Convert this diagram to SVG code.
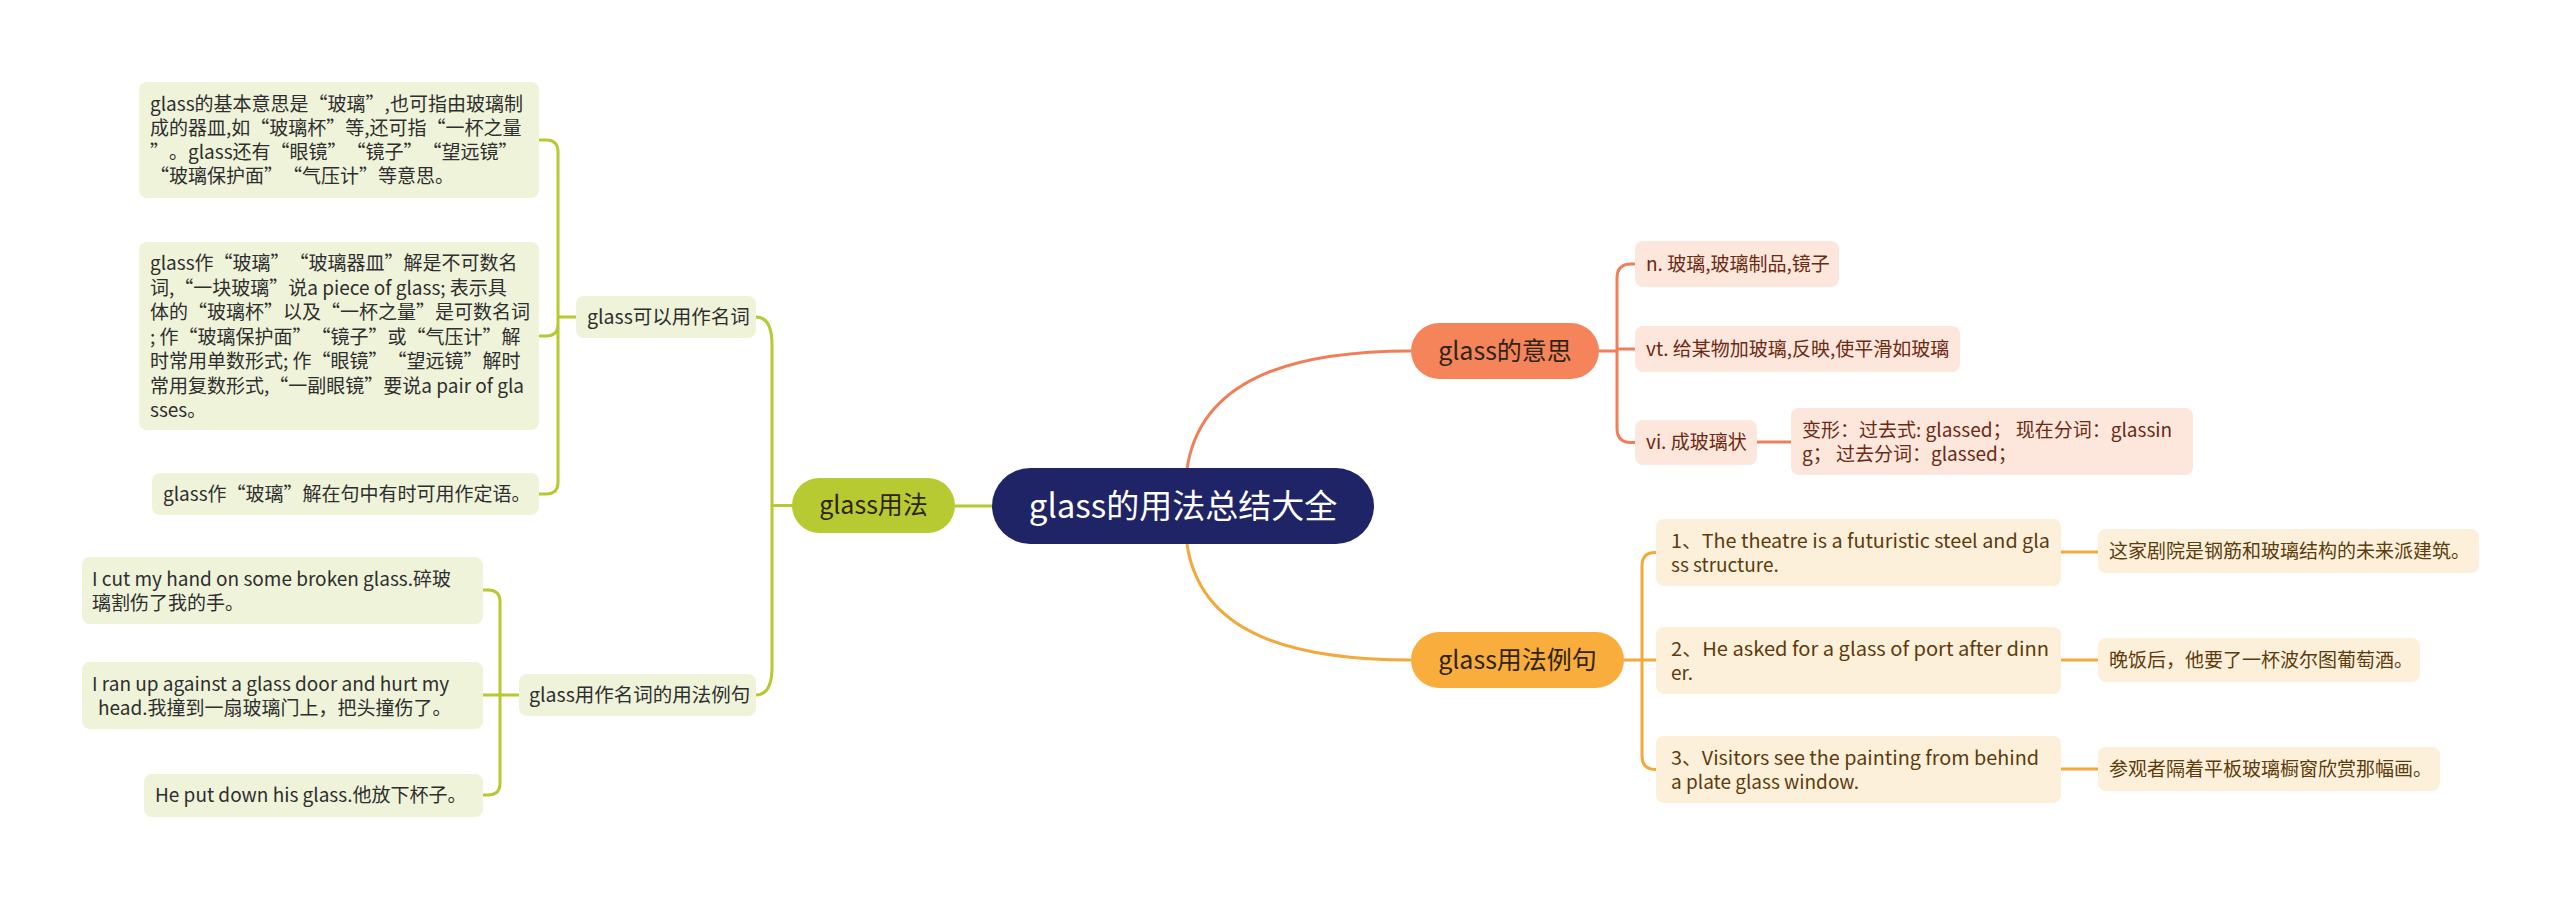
<svg xmlns="http://www.w3.org/2000/svg" width="2560" height="901" viewBox="0 0 2560 901">
<style>
text{font-family:"Noto Sans CJK SC","Noto Sans",sans-serif;text-spacing-trim:space-all;}
.root{fill:#1f2466;}
.rootT{fill:#ffffff;font-size:33px;text-anchor:middle;}
.b1o{fill:#f5845a;}
.b1y{fill:#f9ad3c;}
.b1g{fill:#b7ca31;}
.b1T{fill:#2f2418;font-size:25px;text-anchor:middle;}
.lp{fill:#fde6dc;}
.ly{fill:#fdf0da;}
.lg{fill:#eff3da;}
.tp{fill:#6b2a12;font-size:19px;}
.ty{fill:#5c3b0c;font-size:19px;}
.tg{fill:#2e2e2e;font-size:19px;}
.tg2{fill:#2e2e2e;font-size:19.5px;}
.co{fill:none;stroke:#ef7f58;stroke-width:3;}
.cy{fill:none;stroke:#f3a83b;stroke-width:3;}
.cg{fill:none;stroke:#b6c832;stroke-width:3;}
</style>
<rect width="2560" height="901" fill="#ffffff"/>
<g id="connectors">
<path class="co" d="M1187,469 C1200,380 1290,351 1411,351"/>
<path class="cy" d="M1187,544 C1200,633 1290,660 1411,660"/>
<path class="cg" d="M955,506 L992,506"/>
<path class="co" d="M1599,351 L1617,351 M1617,351 L1617,278 Q1617,264 1631,264 L1635,264 M1617,349 L1635,349 M1617,351 L1617,428 Q1617,442.5 1631,442.5 L1635,442.5 M1757,442 L1791,442"/>
<path class="cy" d="M1624,660 L1642,660 M1642,660 L1642,566 Q1642,552.5 1655,552.5 L1656,552.5 M1642,660 L1656,660 M1642,660 L1642,756 Q1642,769.5 1656,769.5 M2061,552 L2098,552 M2061,660 L2098,660 M2061,769 L2098,769"/>
<path class="cg" d="M792,505.5 L772,505.5 M772,505.5 L772,345 Q772,317 756,317 M772,505.5 L772,667 Q772,695 756,695"/>
<path class="cg" d="M576,317 L558,317 M558,317 L558,152 Q558,140 546,140 L539,140 M558,317 L558,324 Q558,336 546,336 L539,336 M558,317 L558,482 Q558,494 546,494 L539,494"/>
<path class="cg" d="M519,695 L500,695 M500,695 L500,602 Q500,590 488,590 L483,590 M500,695 L483,695 M500,695 L500,783 Q500,795 488,795 L483,795"/>
</g>
<g id="root">
<rect class="root" x="992" y="468" width="382" height="76" rx="38"/>
<text class="rootT" x="1183" y="518">glass的用法总结大全</text>
</g>
<g id="meaning">
<rect class="b1o" x="1411" y="323" width="188" height="56" rx="28"/>
<text class="b1T" x="1505" y="360">glass的意思</text>
</g>
<g id="examples">
<rect class="b1y" x="1411" y="632" width="213" height="56" rx="28"/>
<text class="b1T" x="1517.5" y="669">glass用法例句</text>
</g>
<g id="usage">
<rect class="b1g" x="792" y="478" width="163" height="55" rx="27.5"/>
<text class="b1T" x="873.5" y="514">glass用法</text>
</g>
<g id="m-n">
<rect class="lp" x="1635" y="241" width="204" height="46" rx="8"/>
<text class="tp" x="1646" y="271">n. 玻璃,玻璃制品,镜子</text>
</g>
<g id="m-vt">
<rect class="lp" x="1635" y="326" width="325" height="46" rx="8"/>
<text class="tp" x="1646" y="356">vt. 给某物加玻璃,反映,使平滑如玻璃</text>
</g>
<g id="m-vi">
<rect class="lp" x="1635" y="420" width="122" height="45" rx="8"/>
<text class="tp" x="1646" y="449">vi. 成玻璃状</text>
</g>
<g id="m-forms">
<rect class="lp" x="1791" y="408" width="402" height="67" rx="8"/>
<text class="tp" x="1802" y="437">变形：过去式: glassed； 现在分词：glassin</text>
<text class="tp" x="1802" y="461">g； 过去分词：glassed；</text>
</g>
<g id="e1">
<rect class="ly" x="1656" y="519" width="405" height="67" rx="8"/>
<text class="ty" x="1671" y="548" textLength="379" lengthAdjust="spacingAndGlyphs">1、The theatre is a futuristic steel and gla</text>
<text class="ty" x="1671" y="572">ss structure.</text>
</g>
<g id="e1t">
<rect class="ly" x="2098" y="529" width="381" height="44" rx="8"/>
<text class="ty" x="2109" y="558">这家剧院是钢筋和玻璃结构的未来派建筑。</text>
</g>
<g id="e2">
<rect class="ly" x="1656" y="627" width="405" height="67" rx="8"/>
<text class="ty" x="1671" y="656" textLength="378" lengthAdjust="spacingAndGlyphs">2、He asked for a glass of port after dinn</text>
<text class="ty" x="1671" y="680">er.</text>
</g>
<g id="e2t">
<rect class="ly" x="2098" y="638" width="322" height="44" rx="8"/>
<text class="ty" x="2109" y="667">晚饭后，他要了一杯波尔图葡萄酒。</text>
</g>
<g id="e3">
<rect class="ly" x="1656" y="736" width="405" height="67" rx="8"/>
<text class="ty" x="1671" y="765" textLength="368" lengthAdjust="spacingAndGlyphs">3、Visitors see the painting from behind</text>
<text class="ty" x="1671" y="789">a plate glass window.</text>
</g>
<g id="e3t">
<rect class="ly" x="2098" y="747" width="342" height="44" rx="8"/>
<text class="ty" x="2109" y="776">参观者隔着平板玻璃橱窗欣赏那幅画。</text>
</g>
<g id="noun">
<rect class="lg" x="576" y="296" width="180" height="42" rx="8"/>
<text class="tg2" x="587" y="324">glass可以用作名词</text>
</g>
<g id="noun-ex">
<rect class="lg" x="519" y="674" width="237" height="42" rx="8"/>
<text class="tg2" x="529" y="702">glass用作名词的用法例句</text>
</g>
<g id="n1">
<rect class="lg" x="139" y="82" width="400" height="116" rx="8"/>
<text class="tg" x="150" y="111">glass的基本意思是“玻璃”,也可指由玻璃制</text>
<text class="tg" x="150" y="135">成的器皿,如“玻璃杯”等,还可指“一杯之量</text>
<text class="tg" x="150" y="159">”。glass还有“眼镜”“镜子”“望远镜”</text>
<text class="tg" x="150" y="183">“玻璃保护面”“气压计”等意思。</text>
</g>
<g id="n2">
<rect class="lg" x="139" y="242" width="400" height="188" rx="8"/>
<text class="tg" x="150" y="270">glass作“玻璃”“玻璃器皿”解是不可数名</text>
<text class="tg" x="150" y="294.5">词,“一块玻璃”说a piece of glass; 表示具</text>
<text class="tg" x="150" y="319">体的“玻璃杯”以及“一杯之量”是可数名词</text>
<text class="tg" x="150" y="343.5">; 作“玻璃保护面”“镜子”或“气压计”解</text>
<text class="tg" x="150" y="368">时常用单数形式; 作“眼镜”“望远镜”解时</text>
<text class="tg" x="150" y="392.5">常用复数形式,“一副眼镜”要说a pair of gla</text>
<text class="tg" x="150" y="417">sses。</text>
</g>
<g id="n3">
<rect class="lg" x="152" y="473" width="387" height="42" rx="8"/>
<text class="tg" x="163" y="501">glass作“玻璃”解在句中有时可用作定语。</text>
</g>
<g id="x1">
<rect class="lg" x="82" y="557" width="401" height="67" rx="8"/>
<text class="tg" x="92" y="586">I cut my hand on some broken glass.碎玻</text>
<text class="tg" x="92" y="610">璃割伤了我的手。</text>
</g>
<g id="x2">
<rect class="lg" x="82" y="662" width="401" height="67" rx="8"/>
<text class="tg" x="92" y="691">I ran up against a glass door and hurt my</text>
<text class="tg" x="98" y="715">head.我撞到一扇玻璃门上，把头撞伤了。</text>
</g>
<g id="x3">
<rect class="lg" x="144" y="774" width="339" height="43" rx="8"/>
<text class="tg" x="155" y="802">He put down his glass.他放下杯子。</text>
</g>
</svg>
